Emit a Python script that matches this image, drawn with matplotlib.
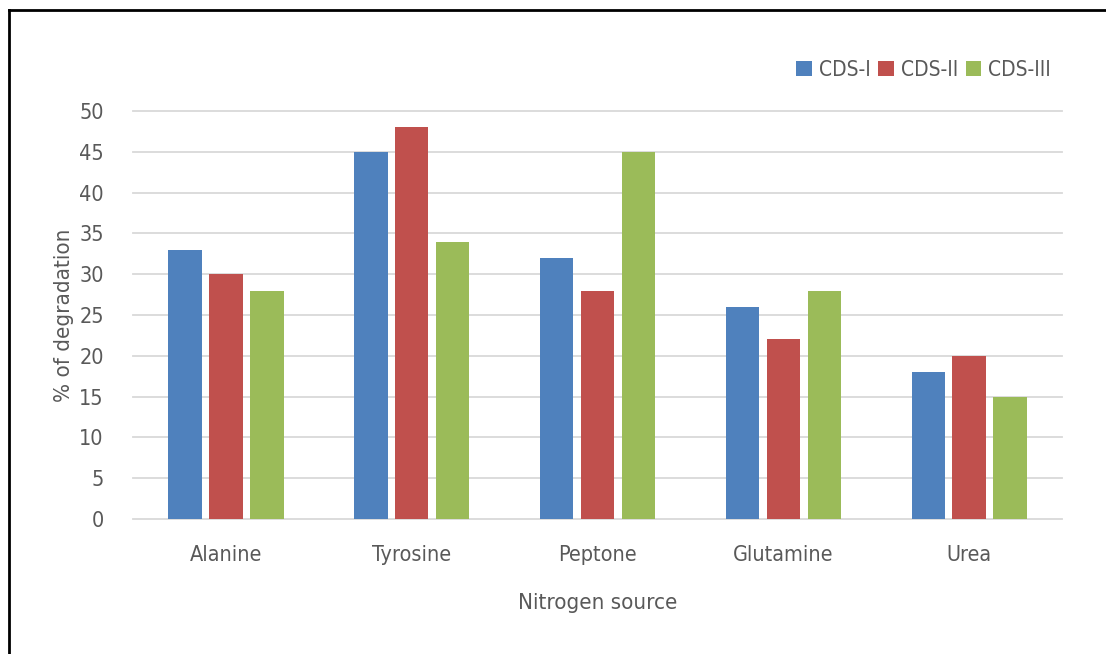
import matplotlib.pyplot as plt
import numpy as np
from matplotlib import font_manager

# Nitrogen source vs % degradation for the three strains
sources = ["Alanine", "Tyrosine", "Peptone", "Glutamine", "Urea"]
series_names = ["CDS-I", "CDS-II", "CDS-III"]
cds_1 = [33, 45, 32, 26, 18]
cds_2 = [30, 48, 28, 22, 20]
cds_3 = [28, 34, 45, 28, 15]
y_ticks = [0, 5, 10, 15, 20, 25, 30, 35, 40, 45, 50]

colors = ["#4F81BD", "#C0504D", "#9BBB59"]
text_color = "#595959"

names = {f.name for f in font_manager.fontManager.ttflist}
if "Liberation Sans Narrow" in names:
    plt.rcParams["font.family"] = ["Liberation Sans Narrow", "DejaVu Sans"]
else:
    plt.rcParams["font.family"] = ["DejaVu Sans"]
    plt.rcParams["font.stretch"] = "condensed"

fig = plt.figure(figsize=(11.06, 6.54), dpi=100)
ax = fig.add_axes([0.1203, 0.2064, 0.840, 0.6239])

x = np.arange(len(sources))
width = 0.18
step = 0.22
for i, (vals, name) in enumerate(zip([cds_1, cds_2, cds_3], series_names)):
    ax.bar(x + (i - 1) * step, vals, width, color=colors[i], label=name, zorder=3)

ax.set_xlim(-0.5, len(sources) - 0.5)
ax.set_ylim(0, 50)
ax.set_yticks(y_ticks)
ax.set_xticks(x)
ax.set_xticklabels(sources)
ax.tick_params(axis="both", length=0, labelsize=15.5, colors=text_color)
ax.tick_params(axis="y", pad=21)
ax.tick_params(axis="x", pad=19)
for yv in y_ticks:
    ax.axhline(yv, color="#D9D9D9", linewidth=1.3, zorder=0, clip_on=False)
for s in ax.spines.values():
    s.set_visible(False)

ax.set_ylabel("% of degradation", fontsize=16, color=text_color, labelpad=4)
ax.set_xlabel("Nitrogen source", fontsize=16, color=text_color, labelpad=20)

leg = fig.legend(loc="center right", bbox_to_anchor=(0.958, 0.893), ncol=3,
                 frameon=False, fontsize=15, handlelength=0.75, handleheight=0.75,
                 handletextpad=0.35, columnspacing=0.35, borderaxespad=0)
for t in leg.get_texts():
    t.set_color(text_color)

# frame lines along the top and left of the panel
fig.add_artist(plt.Line2D([0.0081, 0.0081], [0, 0.985], transform=fig.transFigure,
                          color="black", linewidth=2))
fig.add_artist(plt.Line2D([0.0081, 1.0], [0.985, 0.985], transform=fig.transFigure,
                          color="black", linewidth=2))

fig.savefig("out.png", dpi=100, facecolor="white")
